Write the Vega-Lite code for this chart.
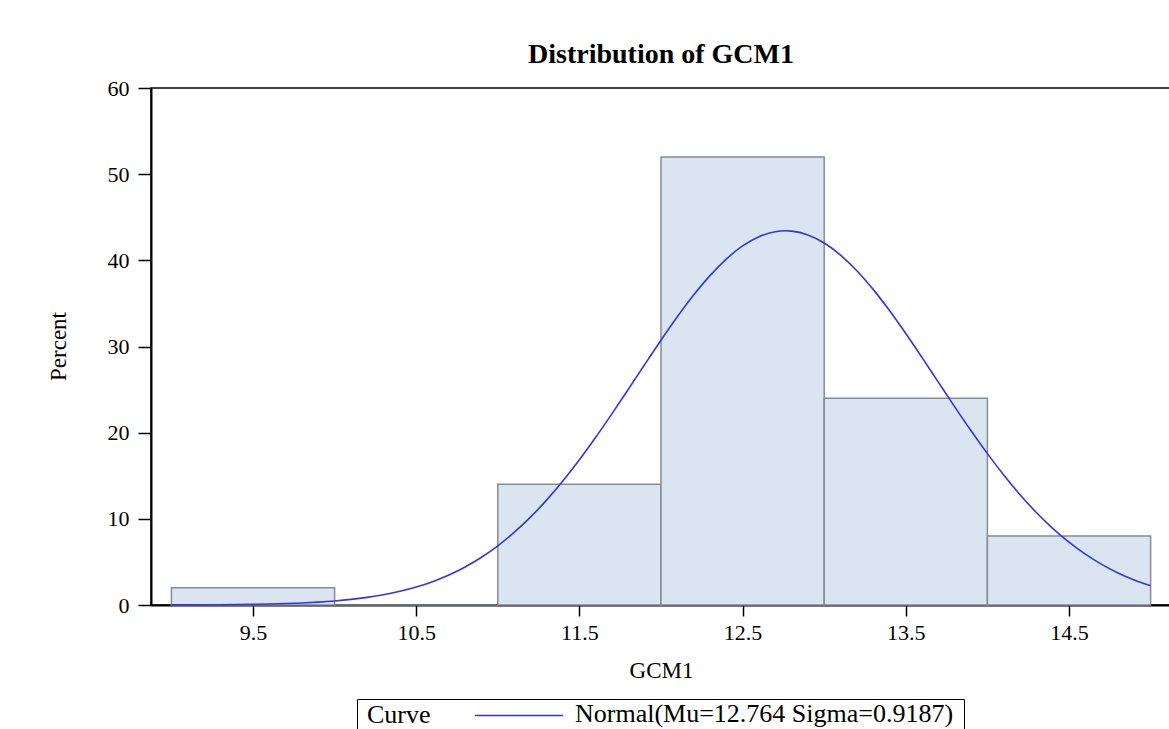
{
  "$schema": "https://vega.github.io/schema/vega-lite/v6.json",
  "autosize": {"type": "none"},
  "padding": {"left": 151, "top": 88, "right": 0, "bottom": 124},
  "width": 1020,
  "height": 517,
  "background": "white",
  "title": {
    "text": "Distribution of GCM1",
    "font": "Liberation Serif",
    "fontSize": 28,
    "fontWeight": "bold",
    "color": "black",
    "anchor": "middle",
    "frame": "group",
    "baseline": "alphabetic",
    "offset": 23,
    "dy": 37
  },
  "config": {
    "view": {"stroke": "black", "strokeWidth": 1.5},
    "axis": {
      "labelFont": "Liberation Serif",
      "titleFont": "Liberation Serif",
      "labelColor": "black",
      "titleColor": "black",
      "labelFontSize": 22,
      "titleFontSize": 23,
      "titleFontWeight": "normal",
      "domainColor": "black",
      "domainWidth": 2,
      "tickColor": "black",
      "tickWidth": 1.5,
      "grid": false
    }
  },
  "datasets": {
    "bars": [
      {"lo": 9, "hi": 10, "percent": 2},
      {"lo": 10, "hi": 11, "percent": 0},
      {"lo": 11, "hi": 12, "percent": 14},
      {"lo": 12, "hi": 13, "percent": 52},
      {"lo": 13, "hi": 14, "percent": 24},
      {"lo": 14, "hi": 15, "percent": 8}
    ],
    "curve": [
      {"x": 9.0, "y": 0.0098}, {"x": 9.1, "y": 0.0153}, {"x": 9.2, "y": 0.0235}, {"x": 9.3, "y": 0.0355},
      {"x": 9.4, "y": 0.0532}, {"x": 9.5, "y": 0.0788}, {"x": 9.6, "y": 0.1154}, {"x": 9.7, "y": 0.1668},
      {"x": 9.8, "y": 0.2386}, {"x": 9.9, "y": 0.3367}, {"x": 10.0, "y": 0.4702}, {"x": 10.1, "y": 0.6485},
      {"x": 10.2, "y": 0.8839}, {"x": 10.3, "y": 1.1906}, {"x": 10.4, "y": 1.5846}, {"x": 10.5, "y": 2.0844},
      {"x": 10.6, "y": 2.7094}, {"x": 10.7, "y": 3.4805}, {"x": 10.8, "y": 4.4185}, {"x": 10.9, "y": 5.5436},
      {"x": 11.0, "y": 6.874}, {"x": 11.1, "y": 8.422}, {"x": 11.2, "y": 10.195}, {"x": 11.3, "y": 12.199},
      {"x": 11.4, "y": 14.424}, {"x": 11.5, "y": 16.853}, {"x": 11.6, "y": 19.459}, {"x": 11.7, "y": 22.205},
      {"x": 11.8, "y": 25.042}, {"x": 11.9, "y": 27.907}, {"x": 12.0, "y": 30.731}, {"x": 12.1, "y": 33.443},
      {"x": 12.2, "y": 35.968}, {"x": 12.3, "y": 38.226}, {"x": 12.4, "y": 40.147}, {"x": 12.5, "y": 41.668},
      {"x": 12.6, "y": 42.739}, {"x": 12.7, "y": 43.319}, {"x": 12.764, "y": 43.425}, {"x": 12.8, "y": 43.392},
      {"x": 12.9, "y": 42.952}, {"x": 13.0, "y": 42.015}, {"x": 13.1, "y": 40.615}, {"x": 13.2, "y": 38.799},
      {"x": 13.3, "y": 36.629}, {"x": 13.4, "y": 34.173}, {"x": 13.5, "y": 31.504}, {"x": 13.6, "y": 28.704},
      {"x": 13.7, "y": 25.843}, {"x": 13.8, "y": 22.994}, {"x": 13.9, "y": 20.217}, {"x": 14.0, "y": 17.567},
      {"x": 14.1, "y": 15.085}, {"x": 14.2, "y": 12.8}, {"x": 14.3, "y": 10.733}, {"x": 14.4, "y": 8.893},
      {"x": 14.5, "y": 7.285}, {"x": 14.6, "y": 5.895}, {"x": 14.7, "y": 4.714}, {"x": 14.8, "y": 3.725},
      {"x": 14.9, "y": 2.911}, {"x": 15.0, "y": 2.246}
    ]
  },
  "layer": [
    {
      "data": {"name": "bars"},
      "mark": {"type": "rect", "fill": "#dbe5f1", "stroke": "#858c94", "strokeWidth": 1.5},
      "encoding": {
        "x": {
          "field": "lo", "type": "quantitative",
          "scale": {"domain": [8.875, 15.125], "nice": false, "zero": false},
          "axis": {
            "values": [9.5, 10.5, 11.5, 12.5, 13.5, 14.5],
            "format": ".1f",
            "title": "GCM1",
            "tickSize": 11,
            "labelPadding": 6,
            "titlePadding": 16
          }
        },
        "x2": {"field": "hi"},
        "y": {
          "field": "percent", "type": "quantitative",
          "scale": {"domain": [0, 60], "nice": false},
          "axis": {
            "values": [0, 10, 20, 30, 40, 50, 60],
            "title": "Percent",
            "tickSize": 13,
            "labelPadding": 9,
            "titleX": -93,
            "titleY": 258,
            "titleBaseline": "middle",
            "titleAngle": -90
          }
        },
        "y2": {"datum": 0}
      }
    },
    {
      "data": {"name": "curve"},
      "mark": {"type": "line", "strokeWidth": 1.6, "interpolate": "monotone"},
      "encoding": {
        "x": {"field": "x", "type": "quantitative"},
        "y": {"field": "y", "type": "quantitative"},
        "color": {
          "datum": "Normal(Mu=12.764 Sigma=0.9187)",
          "type": "nominal",
          "scale": {"range": ["#3535e0"]},
          "legend": {
            "title": "Curve",
            "orient": "none",
            "legendX": 206,
            "legendY": 611,
            "direction": "horizontal",
            "titleOrient": "left",
            "titleFont": "Liberation Serif",
            "titleFontSize": 26,
            "titleFontWeight": "normal",
            "titleColor": "black",
            "titleBaseline": "line-bottom",
            "titleLineHeight": 5,
            "titlePadding": 75,
            "labelFont": "Liberation Serif",
            "labelFontSize": 26,
            "labelColor": "black",
            "labelBaseline": "alphabetic",
            "labelOffset": 43,
            "labelLimit": 600,
            "symbolType": "M-40,-6H40",
            "symbolSize": 4.84,
            "symbolStrokeWidth": 1.5,
            "strokeColor": "black",
            "fillColor": "white",
            "padding": 10
          }
        }
      }
    }
  ]
}
